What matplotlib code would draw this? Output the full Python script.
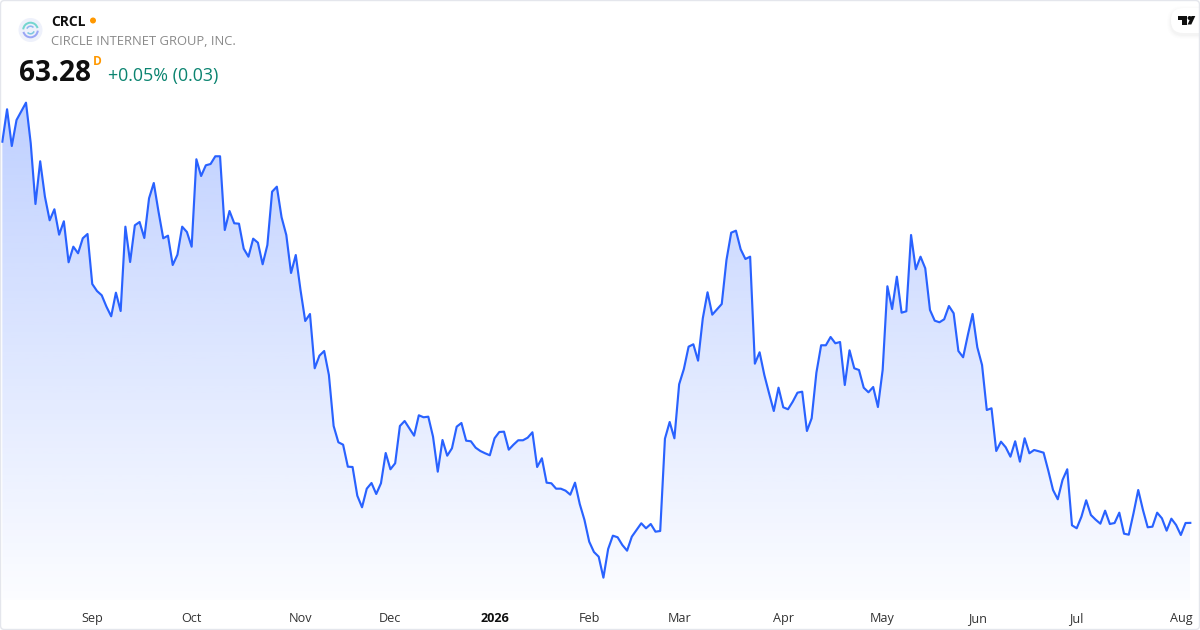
import numpy as np
import matplotlib
matplotlib.use("Agg")
import matplotlib.pyplot as plt
from matplotlib.patches import Circle, Arc, FancyBboxPatch, Polygon
from matplotlib.transforms import Affine2D

plt.rcParams['font.family'] = ['Open Sans', 'DejaVu Sans']

ticker = "CRCL"
company = "CIRCLE INTERNET GROUP, INC."
last_price = "63.28"
interval = "D"
change = "+0.05% (0.03)"

prices = [
    158.58, 166.68, 157.5, 164.0, 166.18, 168.33, 158.18, 143.0, 153.68, 144.83,
    138.93, 141.68, 135.33, 138.68, 128.43, 132.33, 130.68, 134.43, 135.5, 123.0,
    121.25, 120.18, 117.33, 114.93, 120.83, 116.25, 137.33, 128.5, 137.68, 138.5,
    134.5, 144.43, 148.25, 141.08, 134.43, 135.08, 127.75, 130.33, 137.33, 136.0,
    132.33, 154.18, 150.0, 152.68, 153.0, 154.93, 154.93, 136.5, 141.25, 138.18,
    138.08, 131.83, 129.83, 134.33, 133.33, 127.93, 132.75, 146.08, 147.33, 139.68,
    135.25, 125.75, 130.25, 121.5, 113.75, 115.5, 101.93, 105.08, 106.25, 100.25,
    87.5, 83.43, 82.83, 77.33, 77.25, 70.08, 67.18, 71.83, 73.25, 70.5,
    73.18, 80.75, 76.68, 78.18, 87.5, 88.75, 86.93, 85.08, 90.18, 89.68,
    89.83, 84.83, 76.08, 84.0, 80.08, 81.93, 87.33, 88.25, 83.83, 83.68,
    82.08, 81.25, 80.68, 80.18, 84.43, 86.0, 86.08, 81.58, 82.83, 83.93,
    83.93, 84.58, 85.93, 77.25, 79.43, 73.33, 73.18, 71.83, 71.83, 71.33,
    70.33, 73.33, 68.0, 64.0, 58.58, 56.0, 54.83, 49.58, 56.75, 60.08,
    59.68, 57.75, 56.33, 59.83, 61.5, 63.18, 61.93, 63.0, 61.08, 61.25,
    84.33, 88.5, 84.43, 97.93, 101.75, 107.33, 107.93, 103.83, 114.43, 120.93,
    115.33, 116.68, 118.0, 129.0, 135.83, 136.33, 131.68, 129.25, 129.83, 103.08,
    105.93, 100.25, 95.68, 91.25, 97.08, 92.18, 91.68, 93.58, 95.83, 96.08,
    86.25, 89.43, 100.83, 107.68, 107.68, 109.75, 108.18, 108.5, 97.75, 106.43,
    101.93, 101.5, 97.08, 95.93, 97.25, 92.25, 101.5, 122.43, 116.75, 124.83,
    115.83, 116.18, 135.25, 126.68, 129.83, 126.93, 116.5, 113.83, 113.43, 114.18,
    117.5, 115.68, 106.25, 104.68, 110.25, 115.5, 107.18, 102.75, 91.5, 91.93,
    81.25, 83.58, 82.18, 79.83, 83.68, 78.58, 84.43, 80.68, 81.5, 81.18,
    80.83, 76.33, 71.5, 69.18, 74.0, 76.68, 62.68, 61.93, 64.83, 68.93,
    65.25, 64.08, 63.08, 66.33, 63.0, 63.25, 65.83, 60.58, 60.33, 65.68,
    71.5, 66.5, 62.18, 62.33, 65.83, 64.43, 61.33, 64.33, 62.75, 60.25,
    63.25, 63.28,
]
tick_index = [19, 40, 63, 82, 104, 124, 143, 165, 186, 206, 227, 249]
tick_labels = ["Sep", "Oct", "Nov", "Dec", "2026", "Feb", "Mar", "Apr", "May", "Jun", "Jul", "Aug"]
bold_labels = ["2026"]

LINE = "#2962FF"
INK = "#0F0F0F"
fig = plt.figure(figsize=(12, 6.3), dpi=100, facecolor="white")
ax = fig.add_axes([0, 0, 1, 1])
ax.set_axis_off()

days = np.arange(len(prices))
floor = 44.0
xlim = (-0.492, 253.05)
ylim = (36.5, 194.0)

# soft blue area under the line
poly = ax.fill_between(days, prices, floor, facecolor="none", edgecolor="none")
n = 256
grad = np.zeros((n, 1, 4))
grad[..., 0], grad[..., 1], grad[..., 2] = 41 / 255, 98 / 255, 1.0
grad[:, 0, 3] = np.linspace(0.30, 0.015, n)
top = max(prices)
im = ax.imshow(grad, extent=(0, len(prices) - 1, floor, top), aspect="auto",
               origin="upper", interpolation="bilinear", zorder=1)
im.set_clip_path(poly.get_paths()[0], transform=ax.transData)

ax.plot(days, prices, color=LINE, lw=1.55, solid_joinstyle="round", zorder=2)
ax.set_xlim(*xlim)
ax.set_ylim(*ylim)

# time axis labels
xform = ax.get_xaxis_transform()
for pos, lab in zip(tick_index, tick_labels):
    ax.text(pos, 8.3 / 630, lab, transform=xform, ha="center", va="baseline",
            fontsize=9.1, color=INK if lab in bold_labels else "#333333",
            fontweight="bold" if lab in bold_labels else "normal")

# everything below is placed in image pixels, measured from the top left
px = Affine2D().scale(1, -1).translate(0, 630)

def T(x, y, s, **kw):
    return ax.text(x, y, s, transform=px, va="baseline", ha="left", **kw)

T(51, 26, ticker, fontsize=10.0, fontweight="bold", color=INK)
ax.add_patch(Circle((93, 20.5), 3, transform=px, fc="#FF9800", ec="none", zorder=5))
T(51, 45, company, fontsize=9.4, color="#8A8A8A")
T(18.5, 81, last_price, fontsize=20.2, fontweight="bold", color=INK)
T(93, 65, interval, fontsize=8.6, fontweight="bold", color="#FF9800")
T(108, 81, change, fontsize=12.9, color="#0B8470")

# company logo
ax.add_patch(Circle((30.5, 30), 12, transform=px, fc="#EEF1FB", ec="none", zorder=5))
for r, w, t1, t2, col in [(7.3, 2.0, 185, 345, "#74D6CF"), (7.3, 2.0, 5, 165, "#9AA6F5"),
                          (3.8, 1.6, 200, 320, "#8FB7F0"), (3.8, 1.6, 20, 140, "#7FC8E0")]:
    ax.add_patch(Arc((30.5, 30), 2 * r, 2 * r, theta1=t1, theta2=t2, transform=px,
                     color=col, lw=w * 0.72, zorder=6))

# TradingView badge, with a faint shadow
for grow, a in [(4, 0.006), (3, 0.008), (2, 0.012), (1, 0.016)]:
    ax.add_patch(FancyBboxPatch((1171 - grow, 9 - grow + 1), 60 + 2 * grow, 25 + 2 * grow,
                                boxstyle="round,pad=0,rounding_size=%g" % (12 + grow),
                                transform=px, fc="black", ec="none", alpha=a, zorder=6))
ax.add_patch(FancyBboxPatch((1171, 8), 60, 25, boxstyle="round,pad=0,rounding_size=12",
                            transform=px, fc="white", ec="none", zorder=7))
ax.add_patch(Polygon([(1177.5, 16), (1187, 16), (1187, 24.5), (1182, 24.5), (1182, 20), (1177.5, 20)],
                     closed=True, transform=px, fc=INK, ec="none", zorder=8))
ax.add_patch(Circle((1189.6, 18), 2, transform=px, fc=INK, ec="none", zorder=8))
ax.add_patch(Polygon([(1191.5, 16), (1195.3, 16), (1191.3, 24.5), (1187.6, 24.5)],
                     closed=True, transform=px, fc=INK, ec="none", zorder=8))

# card outline
ax.add_patch(FancyBboxPatch((0.5, 0.5), 1199, 629, boxstyle="round,pad=0,rounding_size=4",
                            transform=px, fc="none", ec="#E4E6EC", lw=1.0, zorder=9))

fig.savefig("out.png", dpi=100, facecolor="white")
